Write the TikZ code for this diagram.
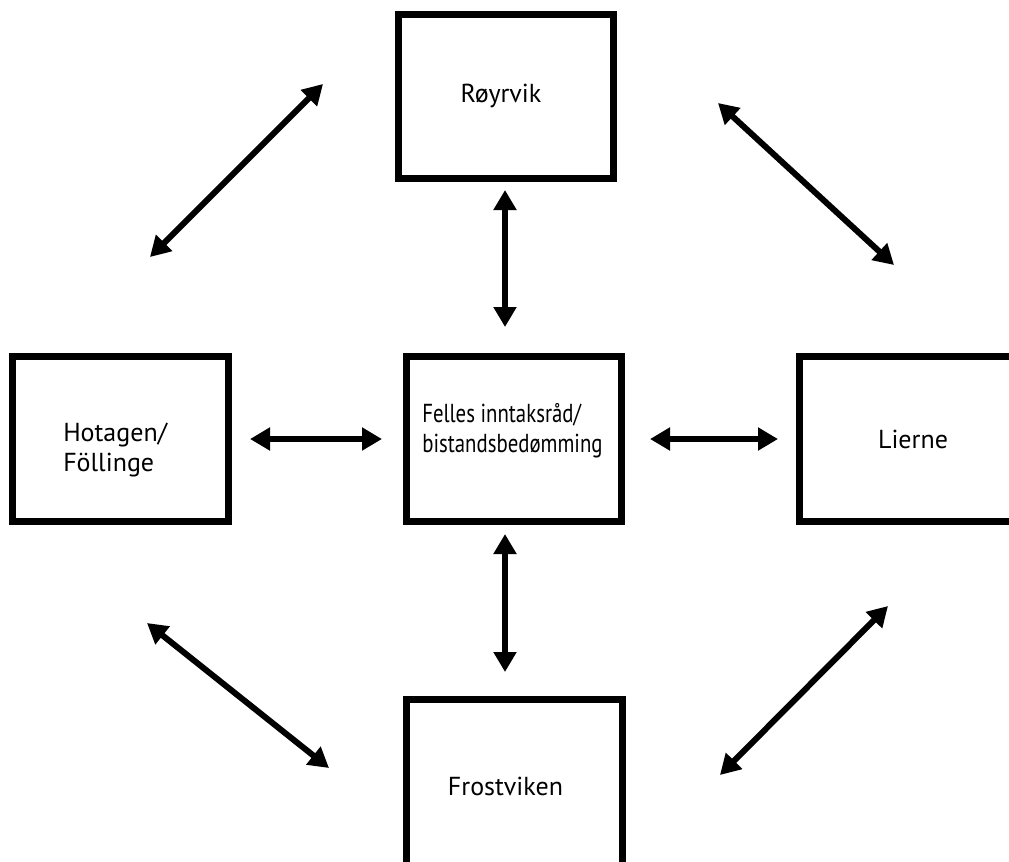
\documentclass[tikz,border=0pt]{standalone}
\usepackage{fontspec}
\setmainfont{PT Sans}
\newfontfamily\smalfont[FakeStretch=0.80]{PT Sans}
\usetikzlibrary{arrows.meta}

\tikzset{
  boks/.style={draw, line width=5.25pt, fill=white},
  tekst/.style={inner sep=0pt, align=left, font=\fontsize{19.5}{22.5}\selectfont},
  pil/.style={line width=4.5pt,
    {Triangle[length=15pt,width=16.5pt]}-{Triangle[length=15pt,width=16.5pt]}}
}

\begin{document}
\begin{tikzpicture}[x=0.75pt,y=-0.75pt]
		%%%%% START %%%%%
		\useasboundingbox (0,0) rectangle (1009,861);
		
		\node[boks, minimum width=161.25pt, minimum height=123pt] (royrvik) at (506,96.5) {};
		\node[boks, minimum width=161.25pt, minimum height=123.75pt] (felles) at (514,439) {};
		\node[boks, minimum width=162pt, minimum height=123.75pt] (hotagen) at (120.5,439) {};
		\node[boks, minimum width=170.25pt, minimum height=123.75pt] (lierne) at (913,439) {};
		\node[boks, minimum width=162pt, minimum height=129.75pt] (frostviken) at (514.5,786) {};
		
		\node[tekst, anchor=base] (royrvik-t) at (501,102) {Røyrvik};
		\node[tekst, anchor=west] (felles-t) at (422,431) {\smalfont Felles inntaksråd/\\\smalfont bistandsbedømming};
		\node[tekst, anchor=west] (hotagen-t) at (63,450) {Hotagen/\\Föllinge};
		\node[tekst, anchor=base] (lierne-t) at (913,448) {Lierne};
		\node[tekst, anchor=base] (frostviken-t) at (505.5,795) {Frostviken};
		
		\draw[pil, shorten <=6pt, shorten >=19.5pt] ([xshift=-0.75pt]royrvik.south) -- ([xshift=-0.75pt]royrvik.south |- felles.north);
		\draw[pil, shorten <=6.75pt, shorten >=18pt] ([xshift=-6.75pt]felles.south) -- ([xshift=-6.75pt]felles.south |- frostviken.north);
		\draw[pil, shorten <=13.5pt, shorten >=15.75pt] (hotagen.east) -- (felles.west);
		\draw[pil, shorten <=18.75pt, shorten >=13.5pt] (felles.east) -- (lierne.west);
		
		\coordinate (hr1) at (150,257);
		\coordinate (hr2) at (323,84);
		\coordinate (rl1) at (718,103);
		\coordinate (rl2) at (894,265);
		\coordinate (hf1) at (147,623);
		\coordinate (hf2) at (329,768);
		\coordinate (lf1) at (888,606);
		\coordinate (lf2) at (720,775);
		
		\draw[pil] (hr1) -- (hr2);
		\draw[pil] (rl1) -- (rl2);
		\draw[pil] (hf1) -- (hf2);
		\draw[pil] (lf1) -- (lf2);
		%%%%% END %%%%%
\end{tikzpicture}
\end{document}
